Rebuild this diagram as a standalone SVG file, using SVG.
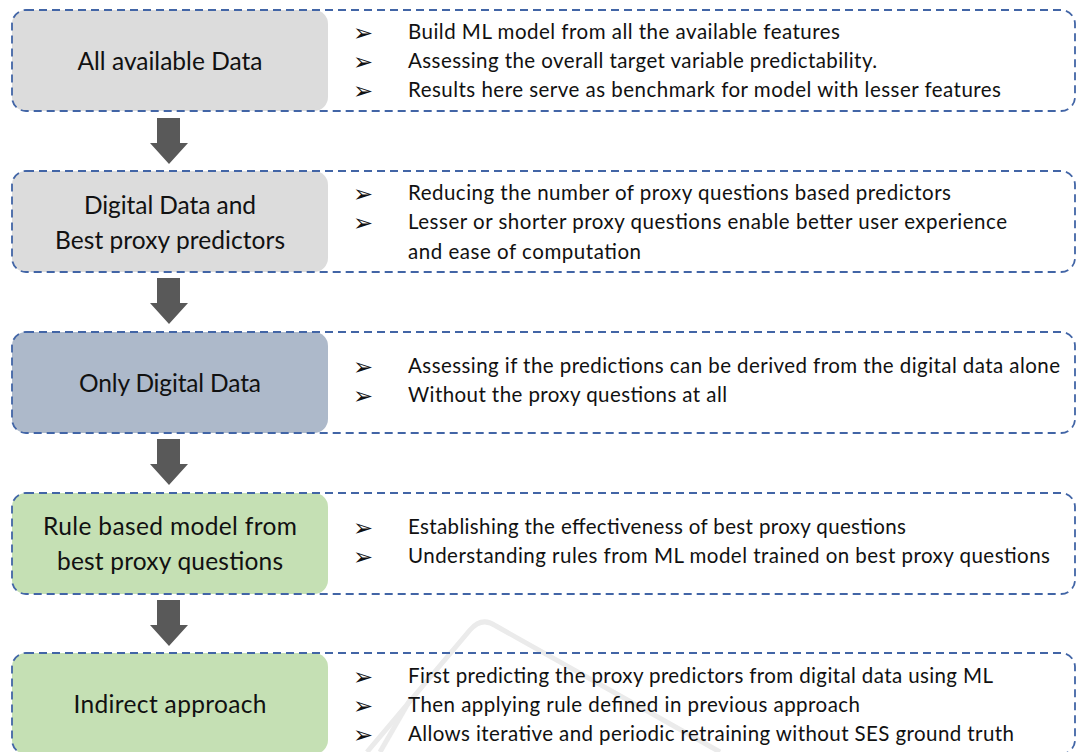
<svg xmlns="http://www.w3.org/2000/svg" width="1076" height="752" viewBox="0 0 1076 752">
  <style>
    .frame { fill: none; stroke: #4265a6; stroke-width: 1.8; stroke-dasharray: 8 5; }
    .label { font-family: Lato, "Open Sans", sans-serif; font-size: 24.5px; fill: #111; text-anchor: middle; }
    .item { font-family: Lato, "Open Sans", sans-serif; font-size: 20.5px; fill: #111; }
    .bullet { font-family: "DejaVu Sans", sans-serif; font-size: 24px; fill: #111; }
    .arrow { fill: #595959; }
    .grey { fill: #dcdcdc; }
    .blue { fill: #adb9ca; }
    .green { fill: #c5e0b4; }
  </style>
  <defs>
    <path id="down" class="arrow" d="M157 0 H180 V25 H188 L169 46 L150 25 H157 Z"/>
  </defs>
  <rect width="1076" height="752" fill="#ffffff"/>

  <!-- faint background emblem -->
  <g fill="none" stroke="#ebebeb" stroke-width="5" stroke-linejoin="round">
    <path d="M367 752 L470 630 Q482 616 496 626 L720 752"/>
    <path d="M380 752 L410 700"/>
  </g>

  <g id="connectors">
    <use href="#down" y="118"/>
    <use href="#down" y="278"/>
    <use href="#down" y="439"/>
    <use href="#down" y="600"/>
  </g>

  <g id="all-data">
    <rect class="grey" x="12" y="10" width="316" height="101" rx="14"/>
    <rect class="frame" x="12" y="10" width="1063" height="101" rx="14"/>
    <text class="label" x="170" y="70" textLength="185">All available Data</text>
    <text class="bullet" x="353" y="41">➢</text>
    <text class="bullet" x="353" y="70">➢</text>
    <text class="bullet" x="353" y="99">➢</text>
    <text class="item" x="408" y="39" textLength="432">Build ML model from all the available features</text>
    <text class="item" x="408" y="68" textLength="469">Assessing the overall target variable predictability.</text>
    <text class="item" x="408" y="97" textLength="593">Results here serve as benchmark for model with lesser features</text>
  </g>

  <g id="digital-proxy">
    <rect class="grey" x="12" y="171" width="316" height="101" rx="14"/>
    <rect class="frame" x="12" y="171" width="1063" height="101" rx="14"/>
    <text class="label" x="170" y="214" textLength="172">Digital Data and</text>
    <text class="label" x="170" y="249" textLength="230">Best proxy predictors</text>
    <text class="bullet" x="353" y="202">➢</text>
    <text class="bullet" x="353" y="231">➢</text>
    <text class="item" x="408" y="200" textLength="543">Reducing the number of proxy questions based predictors</text>
    <text class="item" x="408" y="229" textLength="599">Lesser or shorter proxy questions enable better user experience</text>
    <text class="item" x="408" y="259" textLength="233">and ease of computation</text>
  </g>

  <g id="digital-only">
    <rect class="blue" x="12" y="332" width="316" height="101" rx="14"/>
    <rect class="frame" x="12" y="332" width="1063" height="101" rx="14"/>
    <text class="label" x="170" y="392" textLength="182">Only Digital Data</text>
    <text class="bullet" x="353" y="375">➢</text>
    <text class="bullet" x="353" y="404">➢</text>
    <text class="item" x="408" y="373" textLength="652">Assessing if the predictions can be derived from the digital data alone</text>
    <text class="item" x="408" y="402" textLength="319">Without the proxy questions at all</text>
  </g>

  <g id="rule-based">
    <rect class="green" x="12" y="493" width="316" height="101" rx="14"/>
    <rect class="frame" x="12" y="493" width="1063" height="101" rx="14"/>
    <text class="label" x="170" y="535" textLength="254">Rule based model from</text>
    <text class="label" x="170" y="570" textLength="226">best proxy questions</text>
    <text class="bullet" x="353" y="536">➢</text>
    <text class="bullet" x="353" y="565">➢</text>
    <text class="item" x="408" y="534" textLength="498">Establishing the effectiveness of best proxy questions</text>
    <text class="item" x="408" y="563" textLength="642">Understanding rules from ML model trained on best proxy questions</text>
  </g>

  <g id="indirect">
    <rect class="green" x="12" y="653" width="316" height="101" rx="14"/>
    <rect class="frame" x="12" y="653" width="1063" height="101" rx="14"/>
    <text class="label" x="170" y="713" textLength="193">Indirect approach</text>
    <text class="bullet" x="353" y="685">➢</text>
    <text class="bullet" x="353" y="714">➢</text>
    <text class="bullet" x="353" y="743">➢</text>
    <text class="item" x="408" y="683" textLength="585">First predicting the proxy predictors from digital data using ML</text>
    <text class="item" x="408" y="712" textLength="452">Then applying rule defined in previous approach</text>
    <text class="item" x="408" y="741" textLength="606">Allows iterative and periodic retraining without SES ground truth</text>
  </g>
</svg>
